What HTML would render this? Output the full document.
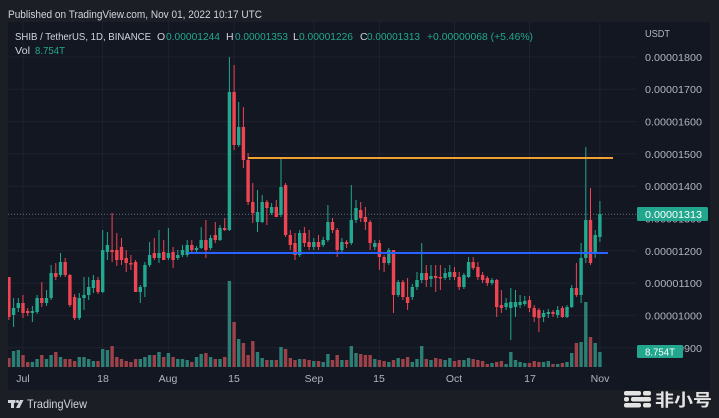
<!DOCTYPE html>
<html><head><meta charset="utf-8"><style>
html,body{margin:0;padding:0;background:#1c1e26;}
svg{display:block;}
text{font-family:"Liberation Sans","Noto Sans CJK SC",sans-serif;}
</style></head><body>
<svg width="719" height="418" viewBox="0 0 719 418" xmlns="http://www.w3.org/2000/svg">
<defs><clipPath id="pane"><rect x="8" y="22" width="628" height="346"/></clipPath></defs>
<rect x="0" y="0" width="719" height="418" fill="#1c1e26"/>
<rect x="8" y="22" width="702" height="368" fill="#131722"/>
<!-- grid -->
<g stroke="#1e2230" stroke-width="1" fill="none">
<path d="M8 57H636M8 89.3H636M8 121.6H636M8 153.9H636M8 186.2H636M8 218.5H636M8 250.8H636M8 283.1H636M8 315.4H636M8 347.7H636"/>
<path d="M23 22V368M102.7 22V368M168.4 22V368M234.1 22V368M313.8 22V368M379.4 22V368M454.5 22V368M529.5 22V368M599.9 22V368"/>
</g>
<g clip-path="url(#pane)">
<!-- volume -->
<path fill="none" stroke="#2b7f74" stroke-width="3.4" d="M13.6 367V351M18.3 367V350M32.4 367V362M37.1 367V359M46.5 367V359M51.1 367V355M60.5 367V357M79.3 367V357M84 367V357M88.7 367V359M93.4 367V361M102.7 367V349M107.4 367V350M140.3 367V359M144.9 367V357M149.6 367V355M159 367V352M168.4 367V353M177.8 367V359M182.5 367V359M187.2 367V360M196.5 367V357M201.2 367V354M210.6 367V357M220 367V359M229.4 367V281M238.7 367V339M257.5 367V352M262.2 367V358M271.6 367V360M281 367V347M299.7 367V359M313.8 367V361M323.2 367V362M327.9 367V354M341.9 367V360M351.3 367V346M356 367V353M374.8 367V359M388.8 367V362M398.2 367V358M412.3 367V362M417 367V359M421.7 367V346M431 367V360M445.1 367V360M449.8 367V358M463.9 367V360M468.6 367V358M492 367V363M506.1 367V364M510.8 367V352M515.5 367V360M520.1 367V362M524.8 367V363M543.6 367V362M548.3 367V361M557.7 367V364M567 367V362M571.7 367V353M581.1 367V342M585.8 367V302M595.2 367V343M599.9 367V352"/>
<path fill="none" stroke="#9e4249" stroke-width="3.4" d="M8.9 367V358M23 367V355M27.7 367V362M41.8 367V355M55.8 367V352M65.2 367V359M69.9 367V359M74.6 367V361M98 367V361M112.1 367V346M116.8 367V357M121.5 367V359M126.2 367V361M130.9 367V362M135.6 367V359M154.3 367V355M163.7 367V357M173.1 367V357M191.8 367V362M205.9 367V353M215.3 367V359M224.7 367V357M234.1 367V322M243.4 367V343M248.1 367V355M252.8 367V341M266.9 367V360M276.3 367V360M285.6 367V349M290.3 367V358M295 367V360M304.4 367V359M309.1 367V360M318.5 367V361M332.5 367V360M337.2 367V355M346.6 367V360M360.7 367V354M365.4 367V355M370.1 367V355M379.4 367V360M384.1 367V361M393.5 367V360M402.9 367V359M407.6 367V357M426.3 367V359M435.7 367V358M440.4 367V359M454.5 367V361M459.2 367V360M473.2 367V359M477.9 367V360M482.6 367V361M487.3 367V364M496.7 367V362M501.4 367V361M529.5 367V363M534.2 367V361M538.9 367V362M553 367V364M562.4 367V363M576.4 367V343M590.5 367V337"/>
<!-- current price dotted line -->
<path d="M8 214.3H636" stroke="#6b6f7a" stroke-width="1" stroke-dasharray="1 2" fill="none"/>
<!-- candles green -->
<path fill="none" stroke="#22a88f" stroke-width="1" d="M13.6 298V327M18.3 298V312M32.4 306V322M37.1 295V314M46.5 290V306M51.1 265V300M60.5 253V277M79.3 293V320M84 277V310M88.7 277V300M93.4 275V293M102.7 230V293M107.4 232V260M140.3 285V303M144.9 262V297M149.6 242V267M159 230V263M168.4 228V260M177.8 250V260M182.5 245V257M187.2 240V257M196.5 246V252M201.2 227V249M210.6 235V250M220 225V241M229.4 57V231M238.7 102V147M257.5 190V232M262.2 195V223M271.6 203V215M281 158V217M299.7 230V257M313.8 238V250M323.2 237V247M327.9 205V242M341.9 238V252M351.3 185V245M356 200V223M374.8 240V250M388.8 248V265M398.2 280V297M412.3 284V300M417 272V290M421.7 243V283M431 265V287M445.1 268V280M449.8 265V280M463.9 273V289M468.6 257V278M492 278V285M506.1 298V310M510.8 288V340M515.5 290V317M520.1 295V308M524.8 296V306M543.6 310V322M548.3 309V318M557.7 306V318M567 305V318M571.7 285V308M581.1 243V303M585.8 147V263M595.2 230V258M599.9 201V242"/>
<path fill="none" stroke="#22a88f" stroke-width="3.4" d="M13.6 308V315M18.3 303V308M32.4 311V313M37.1 298V312M46.5 298V303M51.1 273V298M60.5 262V275M79.3 298V318M84 295V298M88.7 287V295M93.4 280V288M102.7 250V292M107.4 245V252M140.3 287V292M144.9 265V287M149.6 255V265M159 253V258M168.4 253V258M177.8 255V258M182.5 250V255M187.2 245V255M196.5 248V250M201.2 240V248M210.6 238V248M220 228V240M229.4 92V230M238.7 127V145M257.5 212V222M262.2 202V222M271.6 207V213M281 187V215M299.7 233V255M313.8 242V247M323.2 240V245M327.9 222V240M341.9 242V250M351.3 220V243M356 208V220M374.8 243V247M388.8 250V263M398.2 282V295M412.3 287V297M417 280V287M421.7 273V280M431 276V279M445.1 273V278M449.8 272V277M463.9 275V287M468.6 262V277M492 280V283M506.1 303V307M510.8 302V308M515.5 302V307M520.1 302V305M524.8 301V304M543.6 313V317M548.3 312V314M557.7 310V315M567 307V317M571.7 288V307M581.1 258V295M585.8 220V258M595.2 235V252M599.9 214V237"/>
<!-- candles red -->
<path fill="none" stroke="#ef4452" stroke-width="1" d="M8.9 277V320M23 295V318M27.7 308V316M41.8 282V307M55.8 263V280M65.2 258V277M69.9 274V307M74.6 294V320M98 277V294M112.1 213V262M116.8 233V266M121.5 238V265M126.2 250V272M130.9 255V270M135.6 260V292M154.3 238V260M163.7 240V260M173.1 247V268M191.8 240V252M205.9 220V258M215.3 222V243M224.7 218V231M234.1 65V150M243.4 107V168M248.1 153V205M252.8 183V223M266.9 200V225M276.3 200V217M285.6 183V237M290.3 230V250M295 233V260M304.4 227V247M309.1 230V250M318.5 235V250M332.5 218V233M337.2 228V257M346.6 240V248M360.7 202V222M365.4 207V230M370.1 220V250M379.4 240V270M384.1 255V272M393.5 250V313M402.9 280V300M407.6 278V310M426.3 265V287M435.7 265V292M440.4 265V290M454.5 267V280M459.2 272V290M473.2 257V270M477.9 262V280M482.6 272V283M487.3 276V286M496.7 279V317M501.4 290V313M529.5 296V312M534.2 305V322M538.9 308V332M553 310V317M562.4 306V318M576.4 263V297M590.5 188V265"/>
<path fill="none" stroke="#ef4452" stroke-width="3.4" d="M8.9 277V317M23 303V313M27.7 311V313M41.8 298V303M55.8 273V277M65.2 262V275M69.9 275V305M74.6 297V318M98 280V292M112.1 250V252M116.8 250V260M121.5 247V260M126.2 258V263M130.9 263V264.5M135.6 262V292M154.3 253V258M163.7 252V260M173.1 252V260M191.8 245V250M205.9 240V250M215.3 235V240M224.7 228V230M234.1 92V145M243.4 127V160M248.1 160V202M252.8 202V213M266.9 202V208M276.3 207V217M285.6 185V235M290.3 235V245M295 243V255M304.4 233V243M309.1 242V247M318.5 242V247M332.5 222V230M337.2 230V250M346.6 242V244M360.7 210V218M365.4 217V222M370.1 222V243M379.4 243V257M384.1 257V263M393.5 250V295M402.9 282V297M407.6 297V303M426.3 273V280M435.7 276V278M440.4 277V278.5M454.5 272V277M459.2 277V287M473.2 262V268M477.9 267V277M482.6 275V280M487.3 278V283M496.7 280V307M501.4 305V308M529.5 300V308M534.2 308V317M538.9 310V318M553 312V314M562.4 308V317M576.4 288V295M590.5 220V263"/>
<!-- drawn lines -->
<path d="M248 158H613" stroke="#f0a030" stroke-width="2" fill="none"/>
<path d="M188 253H608" stroke="#2962ff" stroke-width="2" fill="none"/>
</g>
<!-- header -->
<text x="8" y="18" font-size="11" fill="#d1d4dc" textLength="254" lengthAdjust="spacingAndGlyphs">Published on TradingView.com, Nov 01, 2022 10:17 UTC</text>
<g font-size="10.5">
<text x="15" y="40" fill="#d1d4dc" textLength="136" lengthAdjust="spacingAndGlyphs">SHIB / TetherUS, 1D, BINANCE</text>
<text x="157" y="40" fill="#d1d4dc">O</text>
<text x="166" y="40" fill="#22a88f" textLength="54" lengthAdjust="spacingAndGlyphs">0.00001244</text>
<text x="226" y="40" fill="#d1d4dc">H</text>
<text x="235" y="40" fill="#22a88f" textLength="53" lengthAdjust="spacingAndGlyphs">0.00001353</text>
<text x="293" y="40" fill="#d1d4dc">L</text>
<text x="299" y="40" fill="#22a88f" textLength="54" lengthAdjust="spacingAndGlyphs">0.00001226</text>
<text x="360" y="40" fill="#d1d4dc">C</text>
<text x="367" y="40" fill="#22a88f" textLength="53" lengthAdjust="spacingAndGlyphs">0.00001313</text>
<text x="427" y="40" fill="#22a88f" textLength="106" lengthAdjust="spacingAndGlyphs">+0.00000068 (+5.46%)</text>
<text x="15" y="54" fill="#d1d4dc" textLength="15" lengthAdjust="spacingAndGlyphs">Vol</text>
<text x="35" y="54" fill="#22a88f" textLength="30" lengthAdjust="spacingAndGlyphs">8.754T</text>
</g>
<!-- price axis -->
<g font-size="10.5" fill="#b2b5be">
<text x="645" y="37" textLength="25" lengthAdjust="spacingAndGlyphs">USDT</text>
<text x="645" y="61" textLength="57" lengthAdjust="spacingAndGlyphs">0.00001800</text>
<text x="645" y="93" textLength="57" lengthAdjust="spacingAndGlyphs">0.00001700</text>
<text x="645" y="125.5" textLength="57" lengthAdjust="spacingAndGlyphs">0.00001600</text>
<text x="645" y="158" textLength="57" lengthAdjust="spacingAndGlyphs">0.00001500</text>
<text x="645" y="190" textLength="57" lengthAdjust="spacingAndGlyphs">0.00001400</text>
<text x="645" y="222.5" textLength="57" lengthAdjust="spacingAndGlyphs">0.00001300</text>
<text x="645" y="255" textLength="57" lengthAdjust="spacingAndGlyphs">0.00001200</text>
<text x="645" y="287" textLength="57" lengthAdjust="spacingAndGlyphs">0.00001100</text>
<text x="645" y="319.5" textLength="57" lengthAdjust="spacingAndGlyphs">0.00001000</text>
<text x="645" y="352" textLength="57" lengthAdjust="spacingAndGlyphs">0.00000900</text>
</g>
<rect x="637" y="207" width="71" height="14" rx="1.5" fill="#22a68e"/>
<text x="645" y="218" font-size="10.5" fill="#ffffff" textLength="57" lengthAdjust="spacingAndGlyphs">0.00001313</text>
<rect x="637" y="345" width="46" height="13" rx="1.5" fill="#22a68e"/>
<text x="645" y="355.5" font-size="10.5" fill="#ffffff" textLength="30" lengthAdjust="spacingAndGlyphs">8.754T</text>
<!-- time axis -->
<g font-size="10.5" fill="#b2b5be" text-anchor="middle">
<text x="23" y="382">Jul</text>
<text x="103" y="382">18</text>
<text x="168" y="382">Aug</text>
<text x="234" y="382">15</text>
<text x="314" y="382">Sep</text>
<text x="379" y="382">15</text>
<text x="454" y="382">Oct</text>
<text x="530" y="382">17</text>
<text x="600" y="382">Nov</text>
</g>
<!-- footer logo -->
<g fill="#d1d4dc">
<rect x="8" y="400" width="7.5" height="3"/>
<rect x="11" y="400" width="3" height="8"/>
<circle cx="17.5" cy="401.5" r="1.5"/>
<polygon points="20,400 23.5,400 19.5,408 16,408"/>
</g>
<text x="27" y="408" font-size="12" fill="#d1d4dc" textLength="60" lengthAdjust="spacingAndGlyphs">TradingView</text>
<!-- watermark -->
<g fill="#e4e4e4">
<rect x="624" y="391" width="17" height="4.5" rx="2"/>
<rect x="643" y="391" width="8" height="4.5" rx="2"/>
<rect x="624" y="397" width="5" height="4.5" rx="2"/>
<rect x="631" y="397" width="20" height="4.5" rx="2"/>
<rect x="624" y="403" width="17" height="4.5" rx="2"/>
<rect x="643" y="403" width="8" height="4.5" rx="2"/>
</g>
<text x="655" y="406" font-size="17" font-weight="bold" fill="#e4e4e4" textLength="57" lengthAdjust="spacingAndGlyphs" style="font-family:'Noto Sans CJK SC','WenQuanYi Zen Hei',sans-serif">非小号</text>
</svg>
</body></html>
